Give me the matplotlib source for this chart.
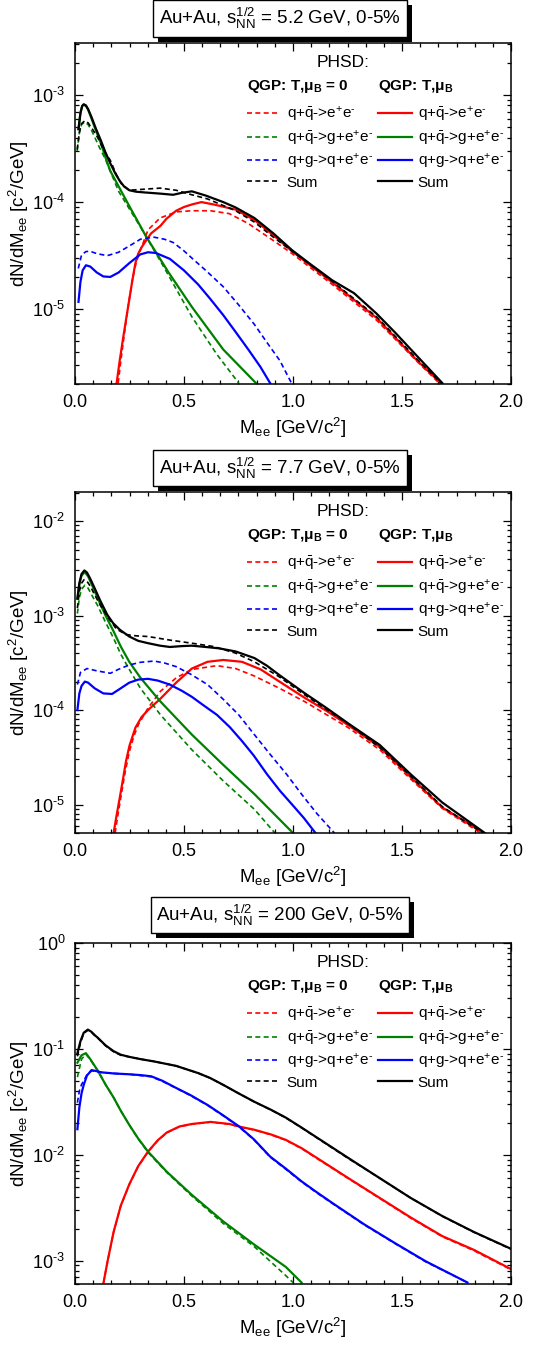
import numpy as np
import matplotlib
matplotlib.use("Agg")
import matplotlib.pyplot as plt
import matplotlib.patheffects as pe
from matplotlib.ticker import MultipleLocator, LogLocator, NullFormatter, FuncFormatter
from matplotlib.lines import Line2D

plt.rcParams['font.family'] = ['Liberation Sans', 'DejaVu Sans']
plt.rcParams['mathtext.fontset'] = 'custom'
plt.rcParams['mathtext.rm'] = 'Liberation Sans'
plt.rcParams['mathtext.it'] = 'Liberation Sans:italic'
plt.rcParams['mathtext.bf'] = 'Liberation Sans:bold'
plt.rcParams['mathtext.default'] = 'regular'

# ---------------- panel 1: sqrt(s) = 5.2 GeV ----------------
p1_sum_mu_x = [0.016, 0.025, 0.033, 0.04, 0.05, 0.06, 0.076, 0.095, 0.12, 0.14, 0.162, 0.185, 0.205, 0.225,
               0.249, 0.28, 0.32, 0.39, 0.45, 0.49, 0.536, 0.60, 0.68, 0.737, 0.823, 0.91, 0.996, 1.08, 1.18,
               1.28, 1.383, 1.47, 1.57, 1.685]
p1_sum_mu_y = [4.8e-4, 6.8e-4, 7.9e-4, 8.2e-4, 8.0e-4, 7.4e-4, 6.2e-4, 4.9e-4, 3.7e-4, 2.9e-4, 2.3e-4, 1.85e-4,
               1.58e-4, 1.4e-4, 1.29e-4, 1.25e-4, 1.23e-4, 1.20e-4, 1.17e-4, 1.22e-4, 1.26e-4, 1.15e-4, 1.0e-4,
               8.9e-5, 7.1e-5, 5.1e-5, 3.55e-5, 2.63e-5, 1.86e-5, 1.41e-5, 9.1e-6, 6.0e-6, 3.63e-6, 2.04e-6]
p1_sum_0_x = [0.01, 0.02, 0.03, 0.045, 0.06, 0.08, 0.105, 0.13, 0.162, 0.19, 0.213, 0.249, 0.32, 0.39, 0.464,
              0.536, 0.608, 0.737, 0.823, 0.91, 0.996, 1.18, 1.383, 1.57, 1.678]
p1_sum_0_y = [3.1e-4, 4.5e-4, 5.4e-4, 5.75e-4, 5.5e-4, 4.8e-4, 3.98e-4, 3.1e-4, 2.45e-4, 1.8e-4, 1.48e-4,
              1.29e-4, 1.32e-4, 1.35e-4, 1.29e-4, 1.17e-4, 1.07e-4, 8.3e-5, 6.5e-5, 4.7e-5, 3.47e-5, 1.82e-5,
              8.5e-6, 3.4e-6, 2.04e-6]
p1_qq_mu_x = [0.191, 0.205, 0.22, 0.235, 0.249, 0.263, 0.277, 0.29, 0.306, 0.33, 0.349, 0.392, 0.42, 0.464,
              0.5, 0.536, 0.58, 0.636, 0.737, 0.823, 0.91, 0.996, 1.18, 1.383, 1.57, 1.678]
p1_qq_mu_y = [2.04e-6, 3.3e-6, 5.25e-6, 8.2e-6, 1.23e-5, 1.85e-5, 2.69e-5, 3.3e-5, 3.8e-5, 4.5e-5, 5.1e-5,
              6.0e-5, 7.0e-5, 8.3e-5, 9.0e-5, 9.5e-5, 1.0e-4, 9.5e-5, 8.5e-5, 6.8e-5, 4.9e-5, 3.47e-5, 1.78e-5,
              8.3e-6, 3.3e-6, 2.04e-6]
p1_qq_0_x = [0.198, 0.212, 0.227, 0.245, 0.263, 0.28, 0.30, 0.335, 0.39, 0.464, 0.536, 0.622, 0.708, 0.795,
             0.91, 0.996, 1.18, 1.383, 1.57, 1.67]
p1_qq_0_y = [2.04e-6, 3.5e-6, 6.0e-6, 1.1e-5, 1.86e-5, 2.7e-5, 3.55e-5, 5.5e-5, 7.1e-5, 8.1e-5, 8.3e-5, 8.3e-5,
             7.8e-5, 6.3e-5, 4.37e-5, 3.3e-5, 1.7e-5, 7.9e-6, 3.24e-6, 2.04e-6]
p1_qqg_mu_x = [0.016, 0.025, 0.033, 0.04, 0.05, 0.06, 0.076, 0.095, 0.12, 0.14, 0.162, 0.25, 0.328, 0.43,
               0.536, 0.68, 0.83]
p1_qqg_mu_y = [4.8e-4, 6.8e-4, 7.9e-4, 8.1e-4, 7.9e-4, 7.3e-4, 6.0e-4, 4.7e-4, 3.5e-4, 2.6e-4, 1.95e-4, 9.1e-5,
               4.7e-5, 2.19e-5, 1.05e-5, 4.2e-6, 2.04e-6]
p1_qqg_0_x = [0.01, 0.02, 0.03, 0.045, 0.06, 0.08, 0.11, 0.14, 0.2, 0.306, 0.4, 0.536, 0.65, 0.751]
p1_qqg_0_y = [3.0e-4, 4.4e-4, 5.3e-4, 5.6e-4, 5.3e-4, 4.5e-4, 3.3e-4, 2.5e-4, 1.26e-4, 5.6e-5, 2.63e-5, 8.5e-6,
              3.8e-6, 2.04e-6]
p1_qg_mu_x = [0.016, 0.025, 0.035, 0.05, 0.07, 0.1, 0.13, 0.162, 0.2, 0.25, 0.3, 0.335, 0.37, 0.435, 0.5,
              0.565, 0.62, 0.68, 0.74, 0.795, 0.85, 0.895]
p1_qg_mu_y = [1.17e-5, 1.8e-5, 2.3e-5, 2.57e-5, 2.5e-5, 2.2e-5, 2.02e-5, 2.0e-5, 2.2e-5, 2.7e-5, 3.25e-5, 3.4e-5,
              3.35e-5, 2.95e-5, 2.3e-5, 1.7e-5, 1.25e-5, 8.8e-6, 6.0e-6, 4.2e-6, 2.9e-6, 2.04e-6]
p1_qg_0_x = [0.015, 0.03, 0.05, 0.07, 0.1, 0.148, 0.2, 0.25, 0.3, 0.363, 0.41, 0.45, 0.5, 0.536, 0.6, 0.68,
             0.75, 0.823, 0.88, 0.94, 0.993]
p1_qg_0_y = [2.4e-5, 3.2e-5, 3.45e-5, 3.47e-5, 3.3e-5, 3.16e-5, 3.4e-5, 3.9e-5, 4.5e-5, 4.7e-5, 4.5e-5, 4.2e-5,
             3.5e-5, 3.0e-5, 2.3e-5, 1.62e-5, 1.1e-5, 7.2e-6, 4.9e-6, 3.3e-6, 2.04e-6]

# ---------------- panel 2: sqrt(s) = 7.7 GeV ----------------
p2_sum_mu_x = [0.011, 0.02, 0.03, 0.043, 0.055, 0.07, 0.09, 0.115, 0.148, 0.175, 0.205, 0.249, 0.29, 0.335,
               0.39, 0.435, 0.49, 0.536, 0.6, 0.66, 0.737, 0.823, 0.88, 0.938, 1.053, 1.154, 1.254, 1.398,
               1.54, 1.685, 1.88]
p2_sum_mu_y = [1.51e-3, 2.2e-3, 2.75e-3, 3.0e-3, 2.85e-3, 2.45e-3, 1.95e-3, 1.45e-3, 1.02e-3, 8.3e-4, 7.1e-4,
               6.0e-4, 5.4e-4, 5.1e-4, 4.8e-4, 4.65e-4, 4.75e-4, 4.8e-4, 4.65e-4, 4.5e-4, 4.17e-4, 3.55e-4,
               2.95e-4, 2.34e-4, 1.51e-4, 1.05e-4, 7.2e-5, 4.27e-5, 2.09e-5, 1.05e-5, 5.0e-6]
p2_sum_0_x = [0.011, 0.02, 0.03, 0.042, 0.055, 0.07, 0.09, 0.115, 0.148, 0.19, 0.234, 0.28, 0.335, 0.435,
              0.536, 0.636, 0.737, 0.823, 0.88, 0.938, 1.053, 1.254, 1.398, 1.54, 1.685, 1.87]
p2_sum_0_y = [1.2e-3, 1.8e-3, 2.2e-3, 2.4e-3, 2.3e-3, 2.05e-3, 1.66e-3, 1.3e-3, 9.8e-4, 7.2e-4, 6.3e-4, 6.1e-4,
              6.0e-4, 5.5e-4, 5.1e-4, 4.7e-4, 4.0e-4, 3.24e-4, 2.7e-4, 2.24e-4, 1.45e-4, 7.1e-5, 4.0e-5,
              2.0e-5, 9.5e-6, 5.0e-6]
p2_qq_mu_x = [0.177, 0.19, 0.205, 0.22, 0.234, 0.25, 0.277, 0.305, 0.335, 0.392, 0.464, 0.536, 0.608, 0.68,
              0.766, 0.852, 0.938, 1.053, 1.154, 1.254, 1.398, 1.54, 1.685, 1.875]
p2_qq_mu_y = [5.0e-6, 7.5e-6, 1.17e-5, 1.85e-5, 2.88e-5, 4.2e-5, 6.5e-5, 8.4e-5, 1.0e-4, 1.32e-4, 1.95e-4,
              2.75e-4, 3.24e-4, 3.39e-4, 3.24e-4, 2.69e-4, 2.0e-4, 1.35e-4, 9.8e-5, 6.9e-5, 4.07e-5, 1.95e-5,
              9.3e-6, 5.0e-6]
p2_qq_0_x = [0.184, 0.197, 0.212, 0.23, 0.249, 0.27, 0.292, 0.335, 0.392, 0.464, 0.536, 0.651, 0.737, 0.823,
             0.938, 1.053, 1.254, 1.398, 1.54, 1.685, 1.86]
p2_qq_0_y = [5.0e-6, 7.8e-6, 1.26e-5, 2.2e-5, 3.6e-5, 5.3e-5, 7.1e-5, 1.05e-4, 1.58e-4, 2.19e-4, 2.69e-4, 2.95e-4,
             2.75e-4, 2.29e-4, 1.7e-4, 1.23e-4, 6.5e-5, 3.8e-5, 1.86e-5, 9.1e-6, 5.0e-6]
p2_qqg_mu_x = [0.011, 0.02, 0.03, 0.045, 0.06, 0.08, 0.105, 0.14, 0.177, 0.21, 0.249, 0.3, 0.35, 0.392, 0.536,
               0.68, 0.823, 1.0]
p2_qqg_mu_y = [1.51e-3, 2.15e-3, 2.65e-3, 2.88e-3, 2.6e-3, 2.05e-3, 1.51e-3, 1.0e-3, 6.8e-4, 4.7e-4, 3.24e-4,
               2.2e-4, 1.6e-4, 1.23e-4, 5.5e-5, 2.63e-5, 1.29e-5, 5.0e-6]
p2_qqg_0_x = [0.011, 0.02, 0.03, 0.045, 0.06, 0.08, 0.105, 0.14, 0.177, 0.21, 0.249, 0.3, 0.35, 0.392, 0.536,
              0.68, 0.823, 0.917]
p2_qqg_0_y = [1.05e-3, 1.55e-3, 1.9e-3, 2.09e-3, 1.95e-3, 1.6e-3, 1.26e-3, 8.5e-4, 5.75e-4, 3.9e-4, 2.69e-4,
              1.7e-4, 1.2e-4, 8.9e-5, 3.8e-5, 1.78e-5, 8.9e-6, 5.0e-6]
p2_qg_mu_x = [0.011, 0.02, 0.03, 0.045, 0.06, 0.09, 0.13, 0.17, 0.21, 0.249, 0.29, 0.335, 0.38, 0.435, 0.49,
              0.536, 0.59, 0.651, 0.71, 0.766, 0.82, 0.881, 0.94, 0.996, 1.05, 1.103]
p2_qg_mu_y = [1.0e-4, 1.5e-4, 1.8e-4, 2.0e-4, 1.95e-4, 1.7e-4, 1.5e-4, 1.48e-4, 1.7e-4, 1.95e-4, 2.1e-4, 2.14e-4,
              2.05e-4, 1.86e-4, 1.6e-4, 1.38e-4, 1.12e-4, 8.9e-5, 6.6e-5, 4.7e-5, 3.3e-5, 2.09e-5, 1.4e-5,
              1.0e-5, 7.2e-6, 5.0e-6]
p2_qg_0_x = [0.011, 0.025, 0.055, 0.1, 0.162, 0.2, 0.249, 0.3, 0.363, 0.41, 0.464, 0.53, 0.608, 0.68, 0.751,
             0.82, 0.895, 0.97, 1.039, 1.11, 1.19]
p2_qg_0_y = [1.86e-4, 2.5e-4, 2.75e-4, 2.6e-4, 2.45e-4, 2.7e-4, 3.0e-4, 3.2e-4, 3.3e-4, 3.15e-4, 2.88e-4, 2.4e-4,
             1.86e-4, 1.3e-4, 8.9e-5, 5.6e-5, 3.4e-5, 2.1e-5, 1.29e-5, 8.0e-6, 5.0e-6]

# ---------------- panel 3: sqrt(s) = 200 GeV ----------------
p3_sum_mu_x = [0.011, 0.025, 0.04, 0.059, 0.075, 0.09, 0.105, 0.14, 0.177, 0.21, 0.249, 0.3, 0.363, 0.464,
               0.565, 0.62, 0.68, 0.75, 0.823, 0.9, 0.967, 1.04, 1.11, 1.254, 1.398, 1.54, 1.685, 1.83, 2.0]
p3_sum_mu_y = [9.1e-2, 0.118, 0.142, 0.152, 0.145, 0.135, 0.127, 0.108, 9.5e-2, 8.8e-2, 8.4e-2, 8.0e-2, 7.6e-2,
               6.9e-2, 5.9e-2, 5.3e-2, 4.57e-2, 3.8e-2, 3.16e-2, 2.65e-2, 2.24e-2, 1.8e-2, 1.45e-2, 9.3e-3,
               6.0e-3, 3.9e-3, 2.63e-3, 1.86e-3, 1.29e-3]
p3_sum_0_x = [0.011, 0.025, 0.04, 0.059, 0.075, 0.09, 0.105, 0.14, 0.177, 0.21, 0.249, 0.3, 0.363, 0.464,
              0.565, 0.62, 0.68, 0.75, 0.823, 0.9, 0.967, 1.04, 1.11, 1.254, 1.398, 1.54, 1.685, 1.83, 2.0]
p3_sum_0_y = [8.5e-2, 0.114, 0.14, 0.150, 0.144, 0.134, 0.126, 0.107, 9.4e-2, 8.7e-2, 8.4e-2, 8.0e-2, 7.6e-2,
              6.9e-2, 5.9e-2, 5.3e-2, 4.55e-2, 3.8e-2, 3.15e-2, 2.64e-2, 2.23e-2, 1.79e-2, 1.44e-2, 9.2e-3,
              6.0e-3, 3.9e-3, 2.62e-3, 1.85e-3, 1.28e-3]
p3_qq_mu_x = [0.131, 0.15, 0.177, 0.21, 0.249, 0.29, 0.335, 0.38, 0.421, 0.48, 0.536, 0.622, 0.708, 0.765,
              0.823, 0.9, 0.967, 1.04, 1.11, 1.254, 1.398, 1.54, 1.685, 1.83, 2.0]
p3_qq_mu_y = [6.2e-4, 1.0e-3, 1.86e-3, 3.3e-3, 5.25e-3, 7.8e-3, 1.07e-2, 1.37e-2, 1.62e-2, 1.85e-2, 1.95e-2,
              2.04e-2, 1.95e-2, 1.82e-2, 1.72e-2, 1.55e-2, 1.38e-2, 1.15e-2, 9.3e-3, 6.0e-3, 3.9e-3, 2.55e-3,
              1.7e-3, 1.26e-3, 8.3e-4]
p3_qq_0_x = [0.131, 0.15, 0.177, 0.21, 0.249, 0.29, 0.335, 0.38, 0.421, 0.48, 0.536, 0.622, 0.708, 0.765,
             0.823, 0.9, 0.967, 1.04, 1.11, 1.254, 1.398, 1.54, 1.685, 1.83, 2.0]
p3_qq_0_y = [6.2e-4, 1.0e-3, 1.85e-3, 3.28e-3, 5.2e-3, 7.75e-3, 1.06e-2, 1.36e-2, 1.61e-2, 1.84e-2, 1.94e-2,
             2.03e-2, 1.94e-2, 1.81e-2, 1.71e-2, 1.54e-2, 1.37e-2, 1.14e-2, 9.2e-3, 5.95e-3, 3.86e-3, 2.52e-3,
             1.68e-3, 1.24e-3, 8.2e-4]
p3_qqg_mu_x = [0.011, 0.03, 0.05, 0.07, 0.105, 0.14, 0.177, 0.21, 0.249, 0.29, 0.335, 0.421, 0.536, 0.68,
               0.823, 0.967, 1.039]
p3_qqg_mu_y = [7.4e-2, 8.7e-2, 9.1e-2, 8.0e-2, 6.2e-2, 4.6e-2, 3.47e-2, 2.6e-2, 1.91e-2, 1.42e-2, 1.07e-2,
               6.9e-3, 4.17e-3, 2.34e-3, 1.41e-3, 8.7e-4, 6.2e-4]
p3_qqg_0_x = [0.011, 0.03, 0.05, 0.07, 0.105, 0.14, 0.177, 0.21, 0.249, 0.29, 0.335, 0.421, 0.536, 0.68,
              0.823, 0.967, 1.0]
p3_qqg_0_y = [5.4e-2, 8.0e-2, 8.9e-2, 7.9e-2, 6.2e-2, 4.6e-2, 3.47e-2, 2.6e-2, 1.91e-2, 1.41e-2, 1.05e-2,
              6.8e-3, 4.07e-3, 2.24e-3, 1.35e-3, 7.2e-4, 6.2e-4]
p3_qg_mu_x = [0.011, 0.02, 0.03, 0.04, 0.055, 0.076, 0.1, 0.12, 0.18, 0.249, 0.3, 0.35, 0.4, 0.464, 0.53,
              0.608, 0.68, 0.751, 0.82, 0.895, 0.97, 1.039, 1.11, 1.18, 1.326, 1.47, 1.61, 1.80]
p3_qg_mu_y = [1.74e-2, 2.8e-2, 3.8e-2, 4.57e-2, 5.6e-2, 6.3e-2, 6.15e-2, 6.0e-2, 5.85e-2, 5.75e-2, 5.65e-2,
              5.5e-2, 5.0e-2, 4.27e-2, 3.65e-2, 2.95e-2, 2.35e-2, 1.86e-2, 1.4e-2, 9.6e-3, 7.3e-3, 5.6e-3,
              4.4e-3, 3.5e-3, 2.2e-3, 1.45e-3, 9.8e-4, 6.2e-4]
p3_qg_0_x = [0.011, 0.02, 0.03, 0.04, 0.055, 0.076, 0.1, 0.12, 0.18, 0.249, 0.3, 0.35, 0.4, 0.464, 0.53,
             0.608, 0.68, 0.751, 0.82, 0.895, 0.97, 1.039, 1.11, 1.18, 1.326, 1.47, 1.61, 1.80]
p3_qg_0_y = [3.1e-2, 4.0e-2, 4.6e-2, 5.0e-2, 5.7e-2, 6.2e-2, 6.1e-2, 6.0e-2, 5.85e-2, 5.75e-2, 5.6e-2,
             5.45e-2, 4.95e-2, 4.25e-2, 3.62e-2, 2.93e-2, 2.33e-2, 1.84e-2, 1.39e-2, 9.5e-3, 7.2e-3, 5.55e-3,
             4.35e-3, 3.47e-3, 2.18e-3, 1.44e-3, 9.7e-4, 6.2e-4]

titles = [r'Au+Au, s$^{1/2}_{NN}$ = 5.2 GeV, 0-5%',
          r'Au+Au, s$^{1/2}_{NN}$ = 7.7 GeV, 0-5%',
          r'Au+Au, s$^{1/2}_{NN}$ = 200 GeV, 0-5%']
ylims = [(2e-6, 3.06e-3), (5e-6, 2.03e-2), (6e-4, 1.0)]
labels = ['q+$\\bar{q}$->e$^{+}$e$^{\u2010}$', 'q+$\\bar{q}$->g+e$^{+}$e$^{\u2010}$',
          'q+g->q+e$^{+}$e$^{\u2010}$', 'Sum']
headers = [r'QGP: T,$\mu_B$ = 0', r'QGP: T,$\mu_B$']
colors = ['#ff0000', '#008000', '#0000ff', '#000000']

panels = [
    [(p1_qq_0_x, p1_qq_0_y, p1_qq_mu_x, p1_qq_mu_y), (p1_qqg_0_x, p1_qqg_0_y, p1_qqg_mu_x, p1_qqg_mu_y),
     (p1_qg_0_x, p1_qg_0_y, p1_qg_mu_x, p1_qg_mu_y), (p1_sum_0_x, p1_sum_0_y, p1_sum_mu_x, p1_sum_mu_y)],
    [(p2_qq_0_x, p2_qq_0_y, p2_qq_mu_x, p2_qq_mu_y), (p2_qqg_0_x, p2_qqg_0_y, p2_qqg_mu_x, p2_qqg_mu_y),
     (p2_qg_0_x, p2_qg_0_y, p2_qg_mu_x, p2_qg_mu_y), (p2_sum_0_x, p2_sum_0_y, p2_sum_mu_x, p2_sum_mu_y)],
    [(p3_qq_0_x, p3_qq_0_y, p3_qq_mu_x, p3_qq_mu_y), (p3_qqg_0_x, p3_qqg_0_y, p3_qqg_mu_x, p3_qqg_mu_y),
     (p3_qg_0_x, p3_qg_0_y, p3_qg_mu_x, p3_qg_mu_y), (p3_sum_0_x, p3_sum_0_y, p3_sum_mu_x, p3_sum_mu_y)],
]


def pow10(v, pos):
    e = int(round(np.log10(v)))
    return '10$^{%s}$' % str(e).replace('-', '\u2010')


W, H = 557, 1345
fig = plt.figure(figsize=(W / 100, H / 100), dpi=100)

ax_left, ax_w, ax_h = 75, 436, 341
ax_tops = [43, 492, 943]
title_y = [18.5, 468, 915]
dash = (0, (3, 2))

for i, curves in enumerate(panels):
    ax = fig.add_axes([ax_left / W, 1 - (ax_tops[i] + ax_h) / H, ax_w / W, ax_h / H])
    for (x0, y0, x1, y1), c in zip(curves, colors):
        ax.plot(x0, y0, color=c, lw=1.2, ls=dash)
        ax.plot(x1, y1, color=c, lw=1.6)
    ax.set_yscale('log')
    ax.set_xlim(0, 2.0)
    ax.set_ylim(*ylims[i])
    ax.xaxis.set_major_locator(MultipleLocator(0.5))
    ax.xaxis.set_minor_locator(MultipleLocator(0.5 / 6))
    ax.xaxis.set_major_formatter(plt.FormatStrFormatter('%.1f'))
    ax.yaxis.set_major_locator(LogLocator(base=10, numticks=20))
    ax.yaxis.set_minor_locator(LogLocator(base=10, subs=np.arange(2, 10), numticks=20))
    ax.yaxis.set_major_formatter(FuncFormatter(pow10))
    ax.yaxis.set_minor_formatter(NullFormatter())
    ax.tick_params(which='both', direction='in', top=True, right=True, labelsize=13, width=0.9)
    ax.tick_params(which='major', length=6, pad=7)
    ax.tick_params(which='minor', length=3)
    for s in ax.spines.values():
        s.set_linewidth(1.1)
    ax.set_xlabel(r'M$_{ee}$ [GeV/c$^2$]', fontsize=13.5)
    ax.set_ylabel(r'dN/dM$_{ee}$ [c$^2$/GeV]', fontsize=13.5)
    ax.xaxis.set_label_coords(0.5, -0.095)
    ax.yaxis.set_label_coords(-0.10, 0.5)

    ax.text(0.615, 0.944, 'PHSD:', transform=ax.transAxes, fontsize=12.5, ha='center', va='center')
    ax.text(0.394, 0.871, headers[0], transform=ax.transAxes, fontsize=11, fontweight='bold',
            ha='left', va='center')
    ax.text(0.695, 0.871, headers[1], transform=ax.transAxes, fontsize=11, fontweight='bold',
            ha='left', va='center')
    h0 = [Line2D([], [], color=c, lw=1.2, ls=dash) for c in colors]
    h1 = [Line2D([], [], color=c, lw=1.6) for c in colors]
    common = dict(loc='upper left', frameon=False, fontsize=11, handlelength=2.2,
                  handletextpad=0.4, labelspacing=0.3, borderpad=0, borderaxespad=0)
    leg0 = ax.legend(h0, labels, bbox_to_anchor=(0.394, 0.818), **common)
    ax.add_artist(leg0)
    ax.legend(h1, labels, bbox_to_anchor=(0.695, 0.818), **common)

    t = fig.text(280 / W, 1 - title_y[i] / H, titles[i], fontsize=13.5, ha='center', va='center',
                 bbox=dict(boxstyle='square,pad=0.3', fc='white', ec='black', lw=1.0))
    t.get_bbox_patch().set_path_effects([pe.SimplePatchShadow(offset=(3.6, -3.6), shadow_rgbFace='black', alpha=1.0),
                                         pe.Normal()])

fig.savefig('out.png', dpi=100)
